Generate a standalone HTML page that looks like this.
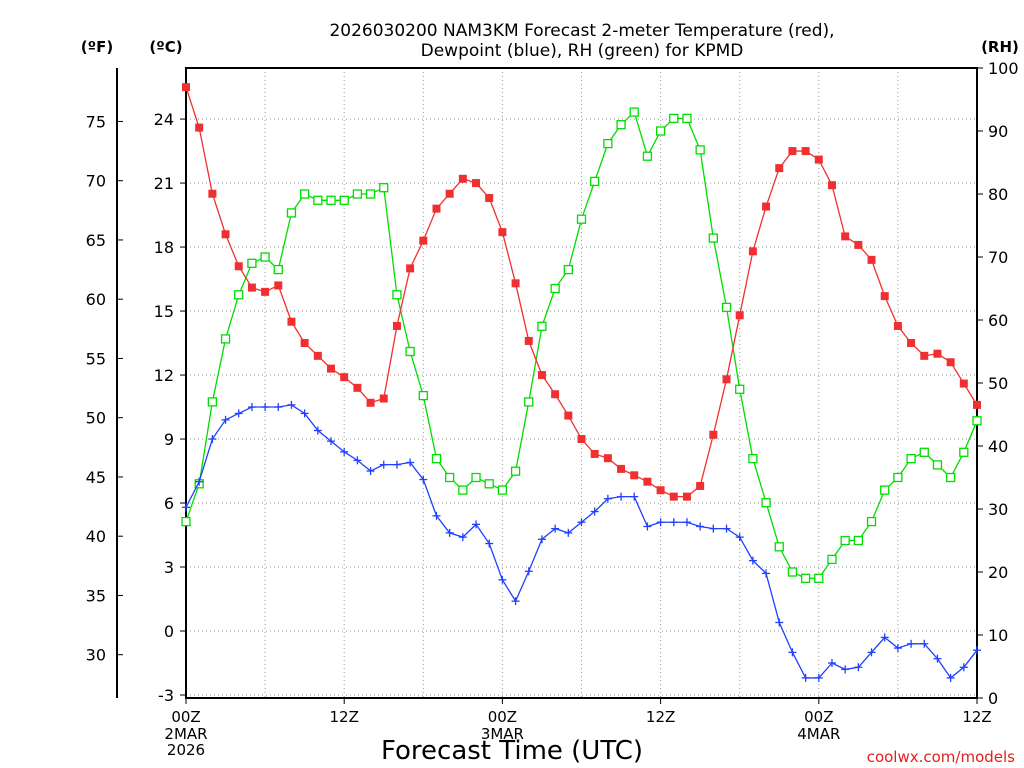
<!DOCTYPE html>
<html><head><meta charset="utf-8"><style>
body{margin:0;background:#fff}
svg{display:block;font-family:"DejaVu Sans","Liberation Sans",sans-serif}
</style></head><body>
<svg id="chart" width="1024" height="768">
<text x="582" y="36" text-anchor="middle" font-size="17">2026030200 NAM3KM Forecast 2-meter Temperature (red),</text>
<text x="582" y="56" text-anchor="middle" font-size="17">Dewpoint (blue), RH (green) for KPMD</text>
<text x="97" y="52" text-anchor="middle" font-size="15" font-weight="bold">(ºF)</text>
<text x="166" y="52" text-anchor="middle" font-size="15" font-weight="bold">(ºC)</text>
<text x="1000" y="52" text-anchor="middle" font-size="15" font-weight="bold">(RH)</text>
<g id="grid"></g><g id="axes"></g><g id="series"></g>
<text x="512" y="759" text-anchor="middle" font-size="26">Forecast Time (UTC)</text>
<text x="1015" y="762" text-anchor="end" font-size="15" fill="#e02020">coolwx.com/models</text>
</svg>
<script>
const temps=[25.5,23.6,20.5,18.6,17.1,16.1,15.9,16.2,14.5,13.5,12.9,12.3,11.9,11.4,10.7,10.9,14.3,17.0,18.3,19.8,20.5,21.2,21.0,20.3,18.7,16.3,13.6,12.0,11.1,10.1,9.0,8.3,8.1,7.6,7.3,7.0,6.6,6.3,6.3,6.8,9.2,11.8,14.8,17.8,19.9,21.7,22.5,22.5,22.1,20.9,18.5,18.1,17.4,15.7,14.3,13.5,12.9,13.0,12.6,11.6,10.6];
const dewpoints=[5.8,7.0,9.0,9.9,10.2,10.5,10.5,10.5,10.6,10.2,9.4,8.9,8.4,8.0,7.5,7.8,7.8,7.9,7.1,5.4,4.6,4.4,5.0,4.1,2.4,1.4,2.8,4.3,4.8,4.6,5.1,5.6,6.2,6.3,6.3,4.9,5.1,5.1,5.1,4.9,4.8,4.8,4.4,3.3,2.7,0.4,-1.0,-2.2,-2.2,-1.5,-1.8,-1.7,-1.0,-0.3,-0.8,-0.6,-0.6,-1.3,-2.2,-1.7,-0.9];
const rh=[28,34,47,57,64,69,70,68,77,80,79,79,79,80,80,81,64,55,48,38,35,33,35,34,33,36,47,59,65,68,76,82,88,91,93,86,90,92,92,87,73,62,49,38,31,24,20,19,19,22,25,25,28,33,35,38,39,37,35,39,44];
const cTicks=[-3,0,3,6,9,12,15,18,21,24];
const fTicks=[30,35,40,45,50,55,60,65,70,75];
const rhTicks=[0,10,20,30,40,50,60,70,80,90,100];
const xTickHours=[0,12,24,36,48,60];
const xTickLabels=["00Z","12Z","00Z","12Z","00Z","12Z"];
const x0=186,x1=977,yTop=68,yBot=698;
const xs=h=>x0+(x1-x0)*h/60;
const yc=c=>631-c*21.33;
const yrh=r=>yBot-(yBot-yTop)*r/100;
const NS="http://www.w3.org/2000/svg";
function mk(p,t,a){const e=document.createElementNS(NS,t);for(const k in a)e.setAttribute(k,a[k]);p.appendChild(e);return e;}
const G=document.getElementById('grid'),A=document.getElementById('axes'),S=document.getElementById('series');
cTicks.forEach(c=>{const l=mk(G,'line',{x1:x0,x2:x1,y1:yc(c),y2:yc(c),stroke:'#999','stroke-dasharray':'1,3'});


mk(A,'line',{x1:x0-6,x2:x0,y1:yc(c),y2:yc(c),stroke:'#000'});
const t=mk(A,'text',{x:x0-12,y:yc(c)+6,'text-anchor':'end','font-size':16});t.textContent=c;

});
for(let h=6;h<60;h+=6){const l=mk(G,'line',{x1:xs(h),x2:xs(h),y1:yTop,y2:yBot,stroke:'#999','stroke-dasharray':'1,3'});

}
fTicks.forEach(f=>{const y=yc((f-32)*5/9);mk(A,'line',{x1:117,x2:123,y1:y,y2:y,stroke:'#000'});
const t=mk(A,'text',{x:106,y:y+6,'text-anchor':'end','font-size':16});t.textContent=f;

});
mk(A,'line',{x1:117,x2:117,y1:yTop,y2:yBot,stroke:'#000','stroke-width':2});
rhTicks.forEach(r=>{mk(A,'line',{x1:x1,x2:x1+6,y1:yrh(r),y2:yrh(r),stroke:'#000'});
const t=mk(A,'text',{x:988,y:yrh(r)+6,'font-size':16});t.textContent=r;

});
const fr=mk(A,'rect',{x:x0,y:yTop,width:x1-x0,height:yBot-yTop,fill:'none',stroke:'#000','stroke-width':2});


const sub=[["2MAR","2026"],[],["3MAR"],[],["4MAR"],[]];
xTickHours.forEach((h,i)=>{mk(A,'line',{x1:xs(h),x2:xs(h),y1:yBot,y2:yBot+6,stroke:'#000'});
const t=mk(A,'text',{x:xs(h),y:722,'text-anchor':'middle','font-size':15});t.textContent=xTickLabels[i];


sub[i].forEach((s,j)=>{const u=mk(A,'text',{x:xs(h),y:739+j*16,'text-anchor':'middle','font-size':15});u.textContent=s;

});});
function series(vals,yf,color,kind,name){
const g=mk(S,'g',{});

mk(g,'polyline',{points:vals.map((v,i)=>xs(i)+','+yf(v)).join(' '),fill:'none',stroke:color,'stroke-width':1.3});
vals.forEach((v,i)=>{const x=xs(i),y=yf(v);
if(kind==='fill')mk(g,'rect',{x:x-4,y:y-4,width:8,height:8,fill:color});
else if(kind==='open')mk(g,'rect',{x:x-4,y:y-4,width:8,height:8,fill:'#fff',stroke:color,'stroke-width':1.3});
else{mk(g,'line',{x1:x-4,x2:x+4,y1:y,y2:y,stroke:color,'stroke-width':1.3});mk(g,'line',{x1:x,x2:x,y1:y-4,y2:y+4,stroke:color,'stroke-width':1.3});}});}
series(rh,yrh,'#00dd00','open','rh-series');
series(dewpoints,yc,'#2040ff','plus','dewpoint-series');
series(temps,yc,'#f03030','fill','temperature-series');
</script>
</body></html>
